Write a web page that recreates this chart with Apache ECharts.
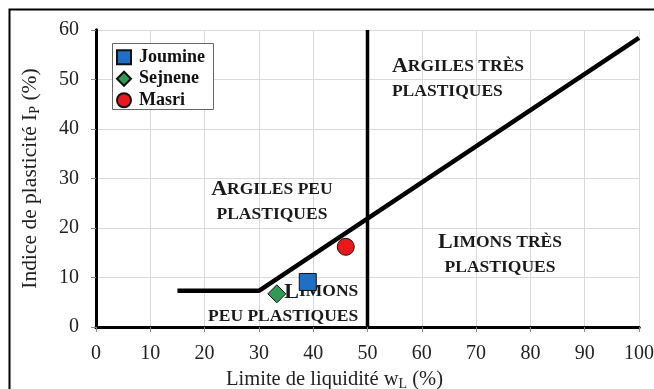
<!DOCTYPE html>
<html>
<head>
<meta charset="utf-8">
<script src="https://cdn.jsdelivr.net/npm/echarts@6/dist/echarts.min.js"></script>
<style>
html,body{margin:0;padding:0;background:#fff;}
#chart{width:654px;height:389px;}
</style>
</head>
<body>
<div id="chart"></div>
<script>
// ---- data ----
var xTicks = [0,10,20,30,40,50,60,70,80,90,100];
var yTicks = [0,10,20,30,40,50,60];
var seriesNames = ['Joumine','Sejnene','Masri'];
var joumine = [[39,9.1]];
var sejnene = [[33.3,6.7]];
var masri = [[46,16.2]];
var aLine = [[15,7.3],[30,7.3],[100,58.4]];
var wL50Line = [[50,0],[50,60]];
var regionLabels = [
  {first:'A', rest1:'RGILES TRÈS', line2:'PLASTIQUES', at:[54.5,50.1], align:'left'},
  {first:'A', rest1:'RGILES PEU', line2:'PLASTIQUES', at:[32.4,25.2], align:'center'},
  {first:'L', rest1:'IMONS', line2:'PEU PLASTIQUES', at:[48.3,4.55], align:'right'},
  {first:'L', rest1:'IMONS TRÈS', line2:'PLASTIQUES', at:[74.4,14.6], align:'center'}
];

var FONT = '"Liberation Serif", "DejaVu Serif", serif';
var chart = echarts.init(document.getElementById('chart'));

var labelSeries = regionLabels.map(function(r){
  return {
    type:'scatter', silent:true, symbolSize:0, z:3,
    data:[{value:r.at}],
    itemStyle:{opacity:1, color:'#1a1a1a'},
    label:{
      show:true, position:'inside', align:r.align, verticalAlign:'middle',
      color:'#1a1a1a', textBorderWidth:0, opacity:1,
      formatter:'{b|'+r.first+'}{s|'+r.rest1+'}\n{s|'+r.line2+'}',
      rich:{
        b:{fontFamily:FONT, fontWeight:'bold', fontSize:22, color:'#1a1a1a', lineHeight:25, textBorderWidth:0},
        s:{fontFamily:FONT, fontWeight:'bold', fontSize:17.5, color:'#1a1a1a', lineHeight:25, textBorderWidth:0}
      }
    }
  };
});

var option = {
  animation:false,
  backgroundColor:'#fff',
  grid:{left:96, right:15, top:30, bottom:62, containLabel:false, outerBoundsMode:'none'},
  legend:{
    data:seriesNames, orient:'vertical', left:116, top:47, padding:0,
    itemWidth:14, itemHeight:14, itemGap:1, z:10,
    itemStyle:{opacity:1},
    textStyle:{fontFamily:FONT, fontWeight:'bold', fontSize:18, color:'#111', lineHeight:20.5, padding:[0,0,0,3]}
  },
  graphic:[
    {type:'rect', left:7, top:7, z:0, shape:{width:700, height:500}, style:{fill:'none', stroke:'#000', lineWidth:2}},
    {type:'rect', left:112, top:43, z:9, shape:{width:101, height:66}, style:{fill:'#fff', stroke:'#666', lineWidth:1}}
  ],
  xAxis:[{
    type:'value', min:0, max:100, interval:10,
    axisLine:{show:true, onZero:false, lineStyle:{color:'#000', width:3}},
    axisTick:{show:true, length:5, lineStyle:{color:'#888'}},
    axisLabel:{fontFamily:FONT, fontSize:20, color:'#222', margin:17,
      formatter:function(v){return xTicks.indexOf(v)>=0?String(v):'';}},
    splitLine:{show:true, lineStyle:{color:'#d9d9d9', width:1}},
    name:'{n|Limite de liquidité w}{sub|L}{n| (%)}',
    nameLocation:'middle', nameGap:40,
    nameTextStyle:{padding:[0,66,0,0], rich:{
      n:{fontFamily:FONT, fontSize:20.5, color:'#222'},
      sub:{fontFamily:FONT, fontSize:14, color:'#222', padding:[10,0,0,0]}
    }}
  },{
    type:'value', position:'top', min:0, max:100, interval:10,
    axisLine:{show:true, lineStyle:{color:'#000', width:3}},
    axisTick:{show:false}, axisLabel:{show:false}, splitLine:{show:false}
  }],
  yAxis:[{
    type:'value', min:0, max:60, interval:10,
    axisLine:{show:true, onZero:false, lineStyle:{color:'#000', width:3}},
    axisTick:{show:true, length:5, lineStyle:{color:'#888'}},
    axisLabel:{fontFamily:FONT, fontSize:20, color:'#222', margin:17,
      formatter:function(v){return yTicks.indexOf(v)>=0?String(v):'';}},
    splitLine:{show:true, lineStyle:{color:'#d9d9d9', width:1}},
    name:'{n|Indice de plasticité I}{sub|P}{n| (%)}',
    nameLocation:'middle', nameGap:54, nameRotate:90,
    nameTextStyle:{rich:{
      n:{fontFamily:FONT, fontSize:21.5, color:'#222'},
      sub:{fontFamily:FONT, fontSize:14, color:'#222', padding:[10,0,0,0]}
    }}
  },{
    type:'value', position:'right', min:0, max:60, interval:10,
    axisLine:{show:true, lineStyle:{color:'#000', width:3}},
    axisTick:{show:false}, axisLabel:{show:false}, splitLine:{show:false}
  }],
  series:[
    {type:'line', name:'A-line', data:aLine, symbol:'none', silent:true, z:2,
      lineStyle:{color:'#000', width:4.5}},
    {type:'line', name:'wL50', data:wL50Line, symbol:'none', silent:true, z:2,
      lineStyle:{color:'#000', width:3.5}},
    {type:'scatter', name:'Joumine', data:joumine, symbol:'rect', symbolSize:17, z:5,
      itemStyle:{color:'#1f6fc6', borderColor:'#111', borderWidth:1, opacity:1}},
    {type:'scatter', name:'Sejnene', data:sejnene, symbol:'diamond', symbolSize:18, z:5,
      itemStyle:{color:'#2f9a52', borderColor:'#111', borderWidth:1, opacity:1}},
    {type:'scatter', name:'Masri', data:masri, symbol:'circle', symbolSize:17, z:5,
      itemStyle:{color:'#e8181c', borderColor:'#111', borderWidth:1, opacity:1}}
  ].concat(labelSeries)
};
chart.setOption(option);
</script>
</body>
</html>
